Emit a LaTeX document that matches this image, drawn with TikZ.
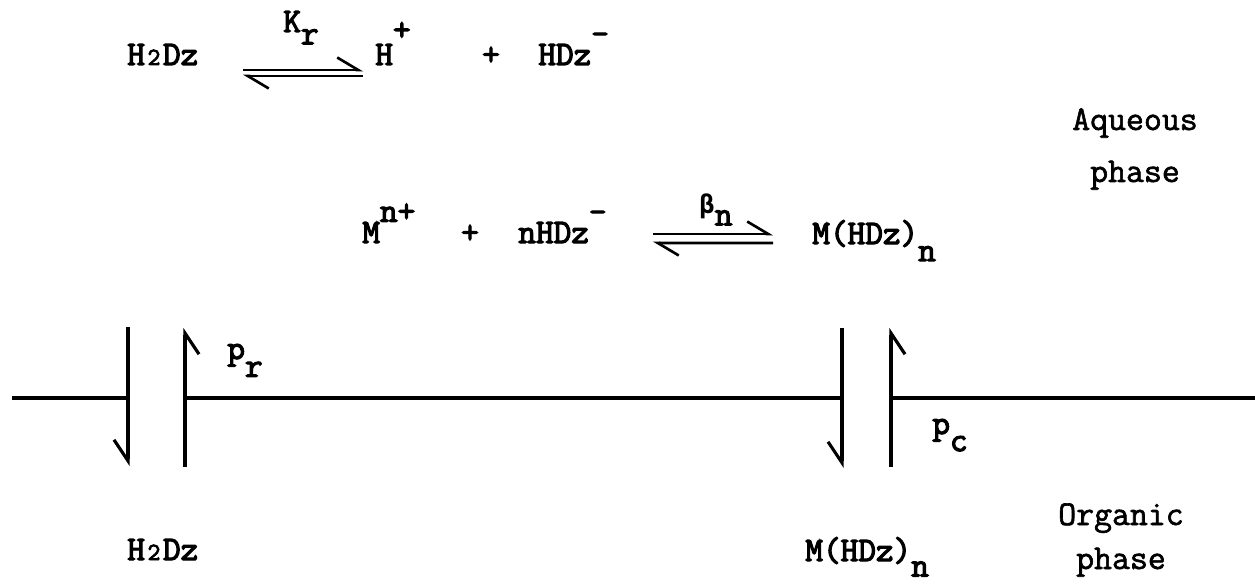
\documentclass[tikz,border=0pt]{standalone}
\usepackage{fontspec}
\usepackage{graphicx}
\usetikzlibrary{positioning, calc, arrows.meta}
\newfontfamily\chemfam{Latin Modern Mono}[FakeBold=3.5]
\newfontfamily\phasefam{Latin Modern Mono}[FakeBold=1.8]
\newfontfamily\grkfam{DejaVu Sans Mono}
\newcommand{\chemfont}{\chemfam\fontsize{19.5}{23}\selectfont}
\newcommand{\phasefont}{\phasefam\fontsize{19.8}{23}\selectfont}
\newcommand{\smtwo}{\makebox[0.525em][c]{\scalebox{0.72}{2}}}
\newcommand{\lowr}[2][0.5em]{\raisebox{-#1}{#2}}
\newcommand{\hir}[2][0.7em]{\raisebox{#1}{#2}}

\begin{document}
\begin{tikzpicture}[
    chem/.style={inner sep=0pt, anchor=base west, font=\chemfont},
    phaselbl/.style={inner sep=0pt, anchor=base, font=\phasefont},
    fwd/.style={line width=1.5pt, -{Straight Barb[left, length=0.42cm, width=0.5cm]}},
    wall/.style={line width=2pt},
    flux/.style={line width=1.8pt, -{Straight Barb[right, length=0.42cm, width=0.56cm]}}
]
    \useasboundingbox (0,0) rectangle (25.1,11.68);

    % Aqueous: dissociation of the reagent
    \node[chem] (h2dz) at (2.54,10.38) {H\smtwo Dz};
    \node[chem] (hplus) at (7.5,10.38) {H\hir[0.72em]{+}};
    \node[chem, anchor=base] (plusa) at (9.82,10.38) {+};
    \node[chem] (hdz) at (10.76,10.38) {HDz\hir[0.6em]{-}};
    \node[chem] (kr) at (5.66,11.04) {K\lowr[0.36em]{r}};
    \draw[fwd] ([xshift=2.32cm, yshift=-0.1cm]h2dz.base west) -- ([xshift=-0.24cm, yshift=-0.1cm]hplus.base west);
    \draw[fwd] ([xshift=-0.24cm, yshift=-0.22cm]hplus.base west) -- ([xshift=2.32cm, yshift=-0.22cm]h2dz.base west);

    % Aqueous: complex formation
    \node[chem] (mion) at (7.24,6.82) {M\hir[0.62em]{n+}};
    \node[chem, anchor=base] (plusb) at (9.4,6.82) {+};
    \node[chem] (nhdz) at (10.36,6.82) {nHDz\hir[0.6em]{-}};
    \node[chem] (mhdz) at (16.24,6.8) {M(HDz)\lowr{n}};
    \node[chem] (betan) at (13.98,7.42) {\scalebox{0.75}{\grkfam\bfseries β}\lowr[0.36em]{n}};
    \draw[fwd] ([xshift=2.7cm, yshift=0.18cm]nhdz.base west) -- ([xshift=-0.78cm, yshift=0.2cm]mhdz.base west);
    \draw[fwd] ([xshift=-0.78cm, yshift=0.02cm]mhdz.base west) -- ([xshift=2.7cm]nhdz.base west);

    % Phase labels
    \node[phaselbl] (aq) at (22.7,9.08) {Aqueous};
    \node[phaselbl] (aqph) at ([yshift=-1.04cm]aq.base) {phase};
    \node[phaselbl] (org) at (22.42,1.18) {Organic};
    \node[phaselbl] (orgph) at ([yshift=-0.88cm]org.base) {phase};

    % Interface and partition arrows
    \coordinate (ifl) at (0.24,3.72);
    \coordinate (ifr) at (25.1,3.72);
    \coordinate (dnAtop) at (2.56,5.14); \coordinate (dnAbot) at (2.56,2.36);
    \coordinate (upAbot) at (3.7,2.34);  \coordinate (upAtop) at (3.7,5.12);
    \coordinate (dnBtop) at (16.84,5.12); \coordinate (dnBbot) at (16.84,2.32);
    \coordinate (upBbot) at (17.82,2.34); \coordinate (upBtop) at (17.82,5.12);
    \draw[wall] (ifl) -- (dnAtop |- ifl);
    \draw[wall] (upAtop |- ifl) -- (dnBtop |- ifl);
    \draw[wall] (upBtop |- ifl) -- (ifr);
    \draw[flux] (dnAtop) -- (dnAbot);
    \draw[flux] (upAbot) -- (upAtop);
    \draw[flux] (dnBtop) -- (dnBbot);
    \draw[flux] (upBbot) -- (upBtop);
    \node[chem] (pr) at (4.54,4.5) {p\lowr[0.52em]{r}};
    \node[chem] (pc) at (18.64,3.0) {p\lowr[0.5em]{c}};

    % Organic phase species
    \node[chem] (h2dzorg) at (2.54,0.48) {H\smtwo Dz};
    \node[chem] (mhdzorg) at (16.1,0.46) {M(HDz)\lowr[0.45em]{n}};
\end{tikzpicture}
\end{document}
